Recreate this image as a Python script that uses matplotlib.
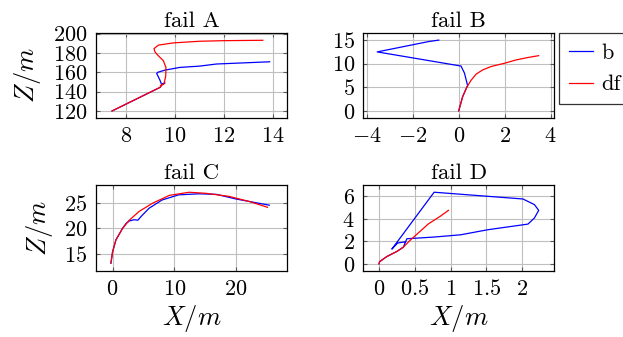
import numpy as np
import matplotlib
matplotlib.use("Agg")
import matplotlib.pyplot as plt
from matplotlib.ticker import FuncFormatter

plt.rcParams['font.family'] = 'serif'
plt.rcParams['font.serif'] = ['cmr10']
plt.rcParams['mathtext.fontset'] = 'cm'
plt.rcParams['axes.formatter.use_mathtext'] = True

# fail A
a_b_x = [7.42, 9.39, 9.46, 9.59, 9.45, 9.38, 9.25, 9.30, 9.59, 10.2, 11.0, 11.7, 13.88]
a_b_z = [120.0, 144.4, 147.0, 149.0, 147.5, 152.0, 158.8, 160.0, 162.2, 165.0, 166.3, 168.5, 170.8]
a_df_x = [7.42, 9.39, 9.46, 9.40, 9.55, 9.62, 9.63, 9.52, 9.30, 9.18, 9.14, 9.32, 9.93, 11.0, 12.0, 13.6]
a_df_z = [120.0, 144.4, 147.0, 146.0, 148.0, 156.0, 165.0, 172.0, 177.5, 181.0, 184.4, 188.0, 190.3, 192.0, 192.6, 193.0]

# fail B
b_b_x = [0.0, 0.17, 0.36, 0.39, 0.25, 0.10, -3.55, -1.3, -0.87]
b_b_z = [0.0, 3.0, 5.1, 5.3, 8.0, 9.5, 12.5, 14.7, 15.0]
b_df_x = [0.0, 0.17, 0.36, 0.54, 0.76, 1.05, 1.41, 2.0, 2.5, 3.0, 3.48]
b_df_z = [0.0, 3.0, 5.1, 6.5, 7.8, 8.7, 9.4, 10.1, 10.8, 11.3, 11.7]

# fail C
c_b_x = [-0.27, 0.0, 0.54, 1.6, 2.2, 2.7, 3.5, 4.1, 4.6, 5.9, 8.0, 10.7, 14.0, 16.8, 20.0, 22.7, 25.4]
c_b_z = [13.3, 15.5, 17.8, 20.0, 21.0, 21.45, 21.7, 21.6, 22.3, 23.9, 25.5, 26.5, 26.7, 26.6, 25.7, 25.1, 24.5]
c_df_x = [-0.27, 0.0, 0.54, 1.6, 2.7, 4.3, 6.5, 9.2, 12.4, 15.1, 18.9, 22.2, 25.1]
c_df_z = [13.3, 15.5, 17.8, 20.0, 21.6, 23.3, 24.9, 26.4, 27.0, 26.8, 26.2, 25.2, 24.1]

# fail D
d_b_x = [0.0, 0.01, 0.11, 0.25, 0.34, 0.39, 0.77, 1.14, 1.52, 2.08, 2.17, 2.23, 2.17, 2.01, 0.77, 0.18, 0.26, 0.36]
d_b_z = [0.0, 0.2, 0.65, 1.1, 1.48, 2.23, 2.38, 2.58, 3.03, 3.53, 4.07, 4.75, 5.26, 5.76, 6.36, 1.31, 1.85, 1.95]
d_df_x = [0.0, 0.01, 0.11, 0.25, 0.34, 0.42, 0.55, 0.69, 0.85, 0.97]
d_df_z = [0.0, 0.2, 0.65, 1.1, 1.48, 2.0, 2.75, 3.55, 4.2, 4.75]

panels = [
    ("fail A", a_b_x, a_b_z, a_df_x, a_df_z, (6.76, 14.6), (112.8, 200.5), [8, 10, 12, 14], [120, 140, 160, 180, 200]),
    ("fail B", b_b_x, b_b_z, b_df_x, b_df_z, (-4.16, 4.17), (-1.5, 16.5), [-4, -2, 0, 2, 4], [0, 5, 10, 15]),
    ("fail C", c_b_x, c_b_z, c_df_x, c_df_z, (-2.7, 28.3), (11.8, 28.4), [0, 10, 20], [15, 20, 25]),
    ("fail D", d_b_x, d_b_z, d_df_x, d_df_z, (-0.22, 2.45), (-0.63, 7.0), [0, 0.5, 1, 1.5, 2], [0, 2, 4, 6]),
]
positions = [
    [0.154, 0.650, 0.307, 0.252],
    [0.583, 0.650, 0.307, 0.252],
    [0.154, 0.196, 0.307, 0.255],
    [0.583, 0.196, 0.307, 0.255],
]

fmt = FuncFormatter(lambda v, p: f'${v:g}$')

fig = plt.figure(figsize=(6.23, 3.37), dpi=100)
for i, (title, bx, bz, dx, dz, xl, yl, xt, yt) in enumerate(panels):
    ax = fig.add_axes(positions[i])
    ax.plot(bx, bz, color='blue', lw=0.9, label='b')
    ax.plot(dx, dz, color='red', lw=0.9, label='df')
    ax.set_xlim(xl)
    ax.set_ylim(yl)
    ax.set_xticks(xt)
    ax.set_yticks(yt)
    ax.xaxis.set_major_formatter(fmt)
    ax.yaxis.set_major_formatter(fmt)
    ax.grid(True, color='0.75', lw=0.8)
    ax.set_axisbelow(True)
    ax.tick_params(direction='in', length=3, width=0.8, color='0.35',
                   top=True, right=True, labelsize=16, pad=6)
    for s in ax.spines.values():
        s.set_linewidth(0.9)
    ax.set_title(title, fontsize=16.5, pad=4)
    if i % 2 == 0:
        ax.set_ylabel('$Z/m$', fontsize=19, labelpad=7)
    if i >= 2:
        ax.set_xlabel('$X/m$', fontsize=19, labelpad=3)
    if i == 1:
        handles, labels = ax.get_legend_handles_labels()

leg = fig.legend(handles, labels, loc='upper left', bbox_to_anchor=(0.897, 0.902),
                 fontsize=16, frameon=True, fancybox=False, handlelength=1.1,
                 borderpad=0.45, labelspacing=0.55, handletextpad=0.35, borderaxespad=0)
leg.get_frame().set_edgecolor('black')
leg.get_frame().set_linewidth(0.9)

fig.savefig('out.png', dpi=100)
